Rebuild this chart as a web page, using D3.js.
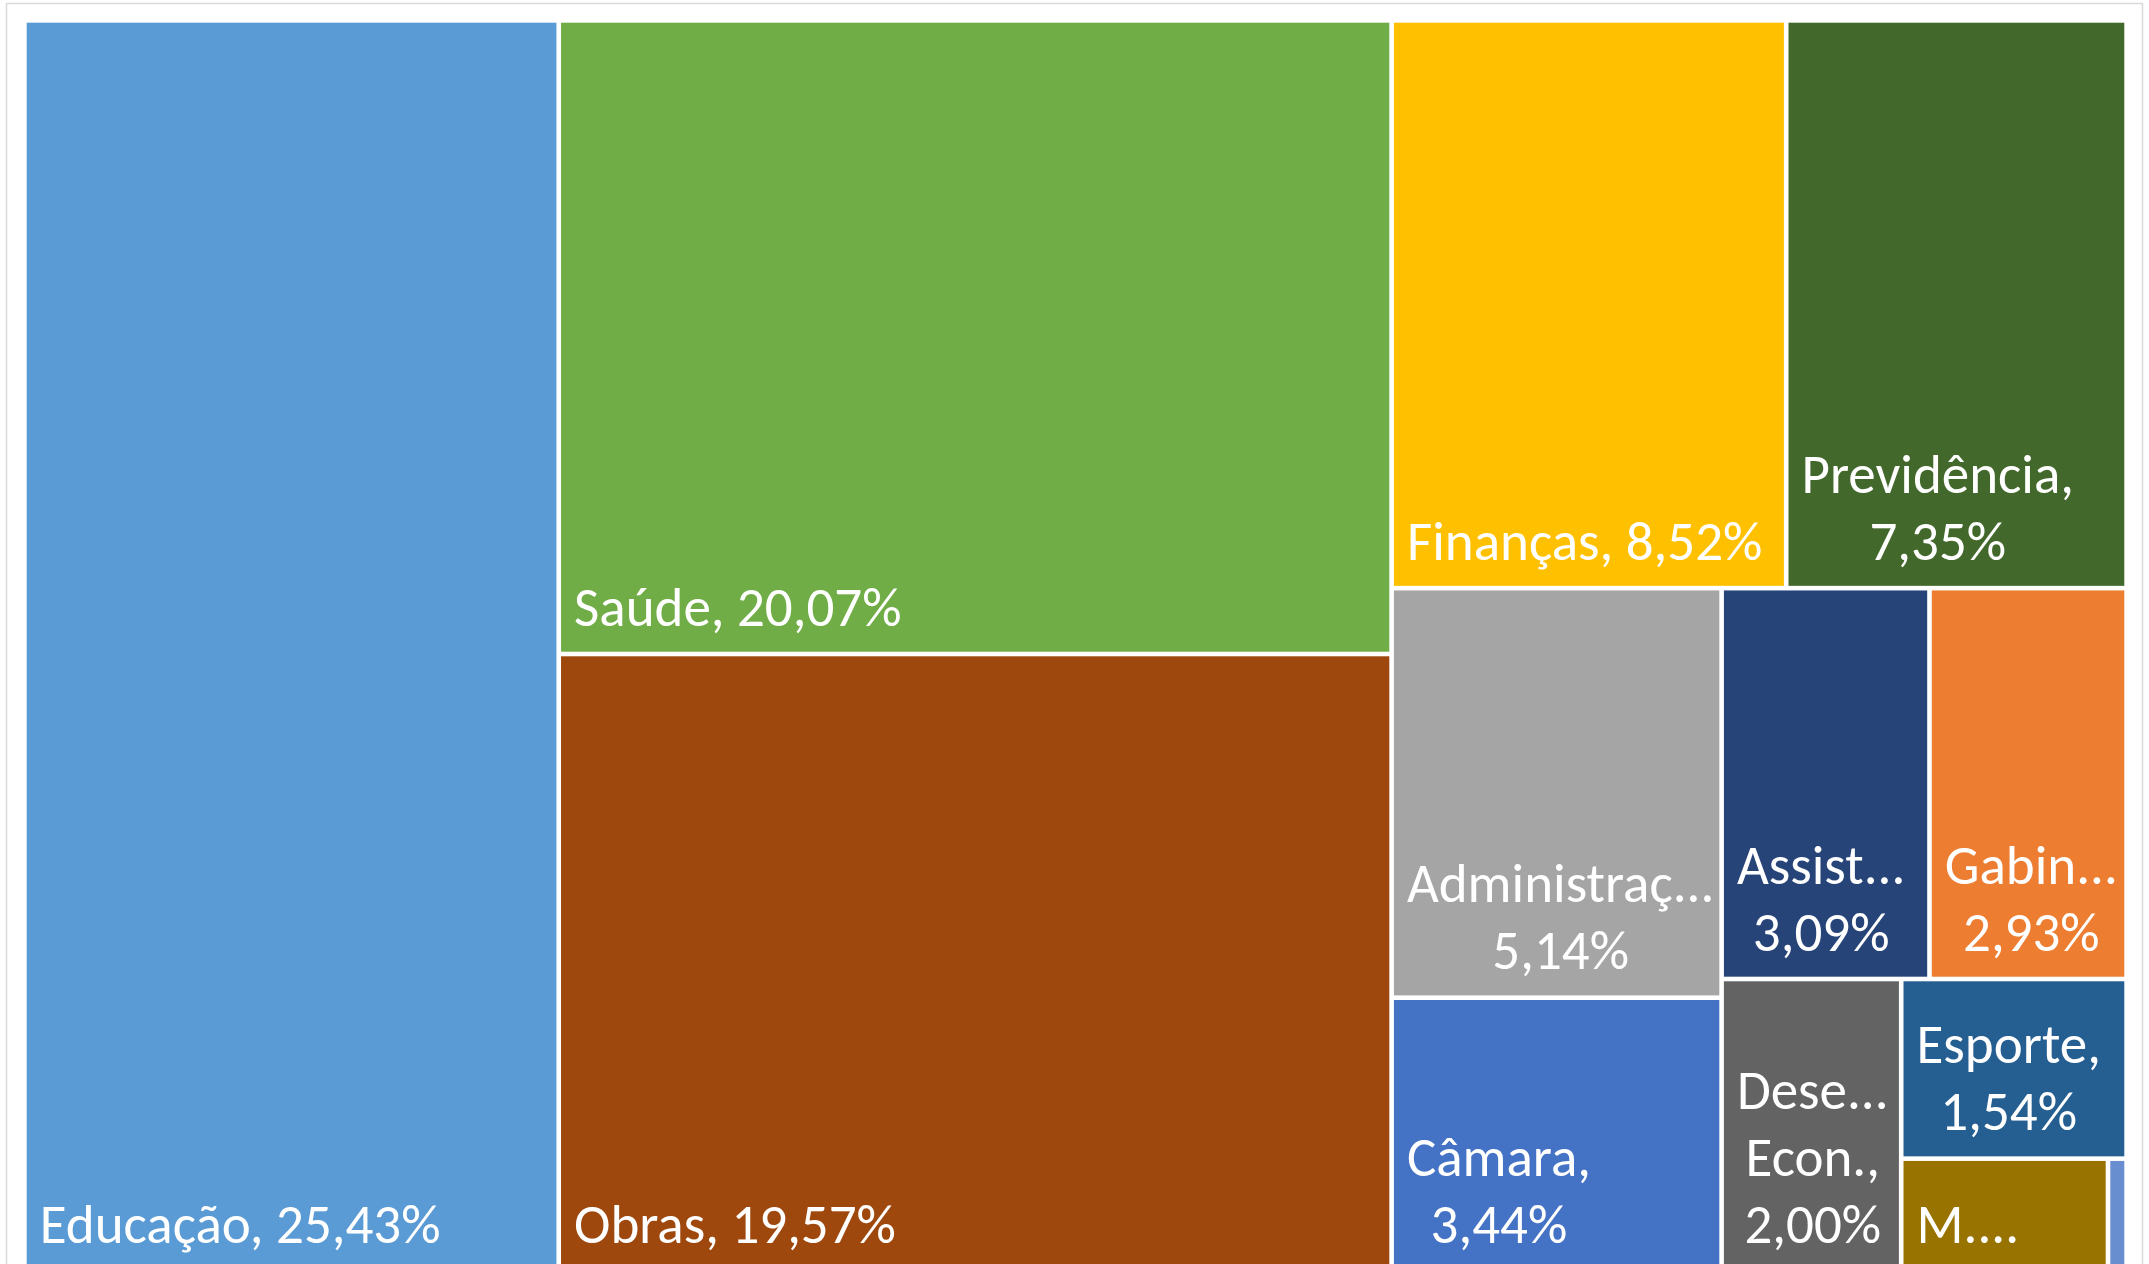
<!DOCTYPE html>
<html><head><meta charset="utf-8">
<script src="https://cdn.jsdelivr.net/npm/d3@7"></script>
<style>
html,body{margin:0;padding:0;background:#fff;overflow:hidden;}
svg{display:block;}
</style></head><body>
<svg id="chart" width="2149" height="1264"></svg>
<script>
// ---- data ----
const categories = ["Educação","Saúde","Obras","Finanças","Previdência","Administração","Câmara","Assistência","Gabinete","Desenv. Econ.","Esporte","M. Ambiente","Outros"];
const values = [25.43,20.07,19.57,8.52,7.35,5.14,3.44,3.09,2.93,2.00,1.54,0.89,0.08];
const colors = ["#5B9BD5","#70AD47","#9E480E","#FFC000","#43682B","#A5A5A5","#4472C4","#264478","#ED7D31","#636363","#255E91","#997300","#698ED0"];
// strip grouping used by the spreadsheet treemap layout
const rowCounts = [1,2,2,2,2,1,1,1,1];

// ---- layout params ----
const FONT = "Calibri, Carlito, Lato, sans-serif";
const offX = 26.7, offY = 22.7, tmW = 2097.6, tmH = 1246.8, gap = 4.6;
const fontSize = 55, lineH = 67, padL = 13, padR = 1, baseOff = 26;

const svg = d3.select("#chart");
svg.append("rect").attr("x",6.5).attr("y",3.5).attr("width",2136).attr("height",1320)
  .attr("fill","#fff").attr("stroke","#d9d9d9").attr("stroke-width",1.5);

const data = categories.map((c,i)=>({name:c, value:values[i], color:colors[i]}));
const root = d3.hierarchy({children:data}).sum(d=>d.value||0);

function excelTile(parent,x0,y0,x1,y1){
  const nodes = parent.children;
  let value = parent.value, i = 0, r = 0;
  while (i < nodes.length){
    const k = rowCounts[r++] || (nodes.length - i);
    const kids = nodes.slice(i, i+k);
    const row = {children: kids, value: d3.sum(kids, d=>d.value)};
    const dx = x1-x0, dy = y1-y0;
    const last = (i + k >= nodes.length);
    if (dx < dy){
      const yy = last ? y1 : y0 + dy*row.value/value;
      d3.treemapDice(row, x0, y0, x1, yy);
      y0 = yy;
    } else {
      const xx = last ? x1 : x0 + dx*row.value/value;
      d3.treemapSlice(row, x0, y0, xx, y1);
      x0 = xx;
    }
    value -= row.value; i += k;
  }
}

d3.treemap().tile(excelTile).size([tmW,tmH]).paddingInner(gap)(root);

const locale = d3.formatLocale({decimal:",", thousands:".", grouping:[3], currency:["R$",""]});
const pct = v => locale.format(".2f")(v) + "%";

const g = svg.append("g").attr("transform",`translate(${offX},${offY})`);
const cells = g.selectAll("g.cell").data(root.leaves()).join("g").attr("class","cell");
cells.append("rect")
  .attr("x",d=>d.x0).attr("y",d=>d.y0)
  .attr("width",d=>d.x1-d.x0).attr("height",d=>d.y1-d.y0)
  .attr("fill",d=>d.data.color);

const measurer = svg.append("text").attr("font-family",FONT).attr("font-size",fontSize).attr("visibility","hidden");
function tw(s){ measurer.text(s); return measurer.node().getComputedTextLength(); }
function truncate(word, avail){
  for (let k=word.length-1;k>0;k--){ const s = word.slice(0,k)+"..."; if (tw(s)<=avail) return s; }
  return word[0]+"...";
}
function wrap(text, avail, maxLines){
  const words = text.split(" ");
  const lines = []; let cur = "";
  for (const w of words){
    if (!cur){
      if (tw(w)<=avail) cur = w; else lines.push(truncate(w,avail));
    } else if (tw(cur+" "+w)<=avail) cur += " "+w;
    else {
      lines.push(cur); cur = "";
      if (tw(w)<=avail) cur = w; else lines.push(truncate(w,avail));
    }
  }
  if (cur) lines.push(cur);
  if (lines.length>maxLines){
    const kept = lines.slice(0,maxLines);
    let l = kept[maxLines-1];
    if (!l.endsWith("...")) l = l + "...";
    kept[maxLines-1] = l;
    return kept;
  }
  return lines;
}

cells.each(function(d){
  const w = d.x1-d.x0, h = d.y1-d.y0;
  if (w < 60 || h < 71) return;
  const avail = w - padL - padR;
  const maxLines = 1 + Math.floor((h-71)/lineH);
  const lines = wrap(d.data.name + ", " + pct(d.data.value), avail, maxLines);
  const bw = d3.max(lines, tw);
  const cx = d.x0 + padL + bw/2;
  const t = d3.select(this).append("text")
    .attr("font-family",FONT).attr("font-size",fontSize).attr("fill","#fff")
    .attr("text-anchor","middle");
  lines.forEach((ln,i)=>{
    t.append("tspan").attr("x",cx)
      .attr("y", d.y1 - baseOff - (lines.length-1-i)*lineH)
      .text(ln);
  });
});
measurer.remove();
</script>
</body></html>
